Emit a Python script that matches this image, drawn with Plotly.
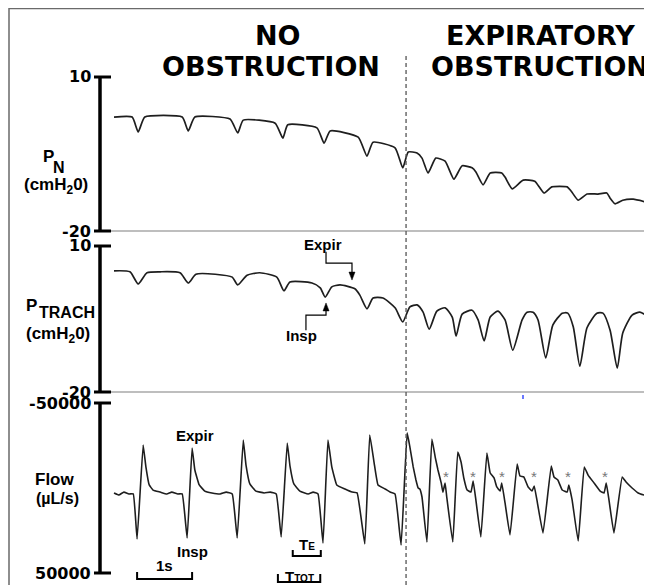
import plotly.graph_objects as go

# ---------------- data (time in s, pressure in cmH2O, flow in uL/s) ----------------
pn_t = [0.00, 0.33, 0.44, 0.56, 1.24, 1.35, 1.47, 2.11, 2.25, 2.35, 2.93, 3.07, 3.16, 3.69, 3.82, 3.93,
        4.44, 4.60, 4.71, 5.11, 5.25, 5.35, 5.51, 5.60, 5.71, 5.85, 6.02, 6.18, 6.33, 6.51, 6.58, 6.71,
        6.84, 7.05, 7.11, 7.24, 7.44, 7.65, 7.82, 7.96, 8.24, 8.31, 8.44, 8.60, 8.80, 8.96, 9.02, 9.11,
        9.25, 9.44, 9.69]
pn_v = [2.2, 2.2, -0.7, 2.2, 2.2, -0.5, 2.2, 1.8, -0.9, 1.6, 1.0, -1.9, 0.7, 0.1, -2.9, -0.5,
        -1.7, -5.4, -2.7, -3.8, -7.7, -4.6, -4.8, -5.8, -8.7, -5.8, -6.4, -9.9, -7.3, -7.7, -8.5, -11.0,
        -8.7, -8.7, -9.5, -11.8, -10.1, -10.3, -12.6, -11.4, -11.4, -12.2, -14.0, -12.8, -12.8, -12.6, -13.6, -14.7,
        -14.0, -13.8, -14.4]

tr_t = [0.00, 0.29, 0.44, 0.60, 0.84, 1.20, 1.35, 1.49, 1.84, 2.15, 2.25, 2.42, 2.65, 2.96, 3.09, 3.20,
        3.60, 3.75, 3.84, 3.96, 4.11, 4.38, 4.47, 4.60, 4.71, 4.89, 5.11, 5.25, 5.38, 5.51, 5.62, 5.73,
        5.87, 6.02, 6.15, 6.22, 6.33, 6.51, 6.62, 6.73, 6.84, 6.98, 7.11, 7.25, 7.42, 7.51, 7.62, 7.71,
        7.85, 7.98, 8.15, 8.25, 8.35, 8.47, 8.60, 8.78, 8.89, 9.02, 9.15, 9.25, 9.42, 9.56, 9.67]
tr_v = [4.9, 4.7, 2.2, 4.5, 4.7, 4.5, 2.4, 4.2, 4.2, 3.6, 2.0, 4.0, 4.5, 3.6, 0.8, 2.6,
        2.4, 1.4, -0.5, 1.6, 2.0, 1.2, -0.1, -2.9, -0.7, -0.7, -2.7, -5.6, -2.5, -2.1, -3.6, -7.1,
        -3.4, -2.7, -4.6, -8.5, -4.0, -3.2, -5.2, -9.5, -4.6, -3.4, -5.2, -11.4, -5.2, -3.6, -3.6, -5.2,
        -13.0, -6.2, -3.8, -3.8, -6.6, -14.7, -6.8, -3.8, -3.8, -7.3, -15.1, -7.9, -4.2, -3.6, -4.2]

fl_t = [0.00, 0.09, 0.18, 0.27, 0.35, 0.42, 0.53, 0.58, 0.64, 0.71, 0.84, 0.96, 1.05, 1.16, 1.24, 1.33,
        1.42, 1.47, 1.55, 1.65, 1.78, 1.93, 2.04, 2.15, 2.24, 2.35, 2.40, 2.47, 2.58, 2.73, 2.84, 2.95,
        3.04, 3.15, 3.20, 3.27, 3.38, 3.53, 3.62, 3.71, 3.80, 3.89, 3.96, 4.05, 4.20, 4.33, 4.42, 4.56,
        4.65, 4.73, 4.80, 4.93, 5.02, 5.11, 5.22, 5.33, 5.38, 5.44, 5.49, 5.53, 5.56, 5.60, 5.69, 5.78,
        5.84, 5.89, 5.95, 5.98, 6.02, 6.05, 6.16, 6.25, 6.31, 6.36, 6.42, 6.49, 6.53, 6.58, 6.67, 6.78,
        6.84, 6.91, 6.96, 7.02, 7.05, 7.11, 7.20, 7.33, 7.38, 7.45, 7.53, 7.60, 7.64, 7.69, 7.80, 7.95,
        8.00, 8.07, 8.15, 8.24, 8.27, 8.33, 8.44, 8.55, 8.62, 8.73, 8.84, 8.91, 8.95, 9.00, 9.09, 9.24,
        9.31, 9.42, 9.53, 9.69]
fl_v = [2900, 4100, 2400, 3500, 3500, 30000, -25300, -12400, -1800, 1200, 2400, 3500, 2400, 3500, 3500, 29400,
        -23500, -10600, -1800, 1800, 2900, 3500, 2400, 3500, 29400, -28200, -13500, -2400, 1800, 2900, 2400, 3500,
        28800, -26500, -12900, -2400, 1800, 3500, 2400, 3500, 32400, -28200, -12400, -1800, 600, 2400, 2900, 32900,
        -31200, -14700, -1800, 600, 2400, 3500, 33500, -32400, -24100, -12400, -4700, 0, 600, 5300, 31800, -28800,
        -18200, -10600, -2900, 2400, -2900, 5300, 31800, -21200, -15300, -5900, 1200, 2400, -4100, 7100, 28800, -20600,
        -8800, -5900, -600, 1800, -2900, 8800, 27600, -14100, -7100, -6500, -600, 1800, -1200, 7100, 26500, -12900,
        -6500, -4700, 1200, 2400, -1800, 7100, 31200, -12400, -7600, -2900, 1800, 2900, -2900, 7100, 26500, -6500,
        -3500, 0, 2900, 4700]

star_t = [6.04, 6.53, 7.05, 7.64, 8.25, 8.93]
star_v = [-6500, -6500, -6500, -6500, -6500, -6500]
onset_t = 5.31

p_ticks = [10, -20]
f_ticks = [-50000, 50000]
f_ticktext = ["-50000", "50000"]

# ---------------- layout helpers (reference pixel -> paper) ----------------
OFF = 8                      # page body margin in the browser
W, H = 652 - OFF, 585 - OFF  # figure size so the visible window matches


def px(p):
    return (p - OFF) / W


def py(p):
    return 1 - (p - OFF) / H


T0, SPS = 114.0, 55.0  # time origin (reference px) and pixels per second
x_range = [(OFF - T0) / SPS, (652 - T0) / SPS]


def band(top_px, bot_px, v_at):
    return [py(bot_px), py(top_px)], [v_at(bot_px), v_at(top_px)]


pn_map = lambda p: 10 - (p - 77) / (154 / 30)
tr_map = lambda p: 10 - (p - 246) / (146 / 30)
fl_map = lambda p: (p - 488) * (100000 / 170)

d1, r1 = band(70, 238, pn_map)
d2, r2 = band(239, 398, tr_map)
d3, r3 = band(399, 585, fl_map)

LINE = "#1e1e1e"
fig = go.Figure()
fig.add_trace(go.Scatter(x=pn_t, y=pn_v, mode="lines", xaxis="x", yaxis="y",
                         line=dict(color=LINE, width=1.7, shape="spline", smoothing=0.5)))
fig.add_trace(go.Scatter(x=tr_t, y=tr_v, mode="lines", xaxis="x", yaxis="y2",
                         line=dict(color=LINE, width=1.7, shape="spline", smoothing=0.6)))
fig.add_trace(go.Scatter(x=fl_t, y=fl_v, mode="lines", xaxis="x", yaxis="y3",
                         line=dict(color=LINE, width=1.6, shape="spline", smoothing=0.3)))

shapes = []
annotations = []

# frame
shapes.append(dict(type="rect", xref="paper", yref="paper", x0=px(9), x1=px(650), y0=-0.05, y1=py(8.5),
                   line=dict(color="#6a6a6a", width=1.5)))


# axis bars with caps and labels
def vbar(yref, lo, hi, labels, texts):
    shapes.append(dict(type="line", xref="paper", yref=yref, x0=px(100), x1=px(100), y0=lo, y1=hi,
                       line=dict(color="black", width=3.5)))
    for v, t in zip(labels, texts):
        shapes.append(dict(type="line", xref="paper", yref=yref, x0=px(94), x1=px(111), y0=v, y1=v,
                           line=dict(color="black", width=3)))
        annotations.append(dict(xref="paper", yref=yref, x=px(93), y=v, text="<b>%s</b>" % t,
                                xanchor="right", yanchor="middle", showarrow=False,
                                font=dict(family="DejaVu Sans", size=16, color="black")))


vbar("y", -20, 10, p_ticks, [str(v) for v in p_ticks])
vbar("y2", -20, 10, p_ticks, [str(v) for v in p_ticks])
vbar("y3", -50000, 50000, f_ticks, f_ticktext)

# gray baselines at -20
for yr in ["y", "y2"]:
    shapes.append(dict(type="line", xref="paper", yref=yr, x0=px(111), x1=px(650), y0=-20, y1=-20,
                       line=dict(color="#a8a8a8", width=1.5)))

# dashed onset line
shapes.append(dict(type="line", xref="x", yref="paper", x0=onset_t, x1=onset_t, y0=0, y1=py(56),
                   line=dict(color="#555555", width=1.3, dash="4px,3px")))

# small blue artifact
shapes.append(dict(type="line", xref="paper", yref="paper", x0=px(523), x1=px(523), y0=py(399), y1=py(395),
                   line=dict(color="#3a4cff", width=1.5)))

# headers
HF = dict(family="DejaVu Sans", size=27, color="black")
for txt, cx, cy in [("NO", 278, 35), ("OBSTRUCTION", 271, 66), ("EXPIRATORY", 540, 35), ("OBSTRUCTION", 540, 66)]:
    annotations.append(dict(xref="paper", yref="paper", x=px(cx), y=py(cy), text="<b>%s</b>" % txt,
                            showarrow=False, xanchor="center", yanchor="middle", font=HF))

# left labels
for txt, cx, cy, sz in [("P", 48, 156, 17), ("N", 59, 167, 16), ("(cmH<sub>2</sub>0)", 56, 186, 17),
                        ("P", 31, 305, 17), ("TRACH", 67, 312, 16), ("(cmH<sub>2</sub>0)", 58, 335, 17),
                        ("Flow", 54, 479, 17), ("(µL/s)", 58, 498, 16)]:
    annotations.append(dict(xref="paper", yref="paper", x=px(cx), y=py(cy), text="<b>%s</b>" % txt,
                            showarrow=False, xanchor="center", yanchor="middle",
                            font=dict(family="Liberation Sans", size=sz, color="black")))

AF = dict(family="Liberation Sans", size=15, color="black")
# PTRACH annotations with elbow arrows
annotations.append(dict(xref="x", yref="y2", x=3.80, y=10.4, text="<b>Expir</b>", showarrow=False, font=AF))
shapes.append(dict(type="path", xref="x", yref="y2", path="M 3.855,8.8 L 3.855,6.5 L 4.327,6.5 L 4.327,4.6",
                   line=dict(color="black", width=1.2)))
shapes.append(dict(type="path", xref="x", yref="y2", path="M 4.272,4.64 L 4.382,4.64 L 4.327,3.0 Z",
                   line=dict(color="black", width=0.5), fillcolor="black"))
annotations.append(dict(xref="x", yref="y2", x=3.40, y=-8.3, text="<b>Insp</b>", showarrow=False, font=AF))
shapes.append(dict(type="path", xref="x", yref="y2", path="M 3.49,-7.3 L 3.49,-4.2 L 3.855,-4.2 L 3.855,-3.3",
                   line=dict(color="black", width=1.2)))
shapes.append(dict(type="path", xref="x", yref="y2", path="M 3.80,-3.34 L 3.91,-3.34 L 3.855,-1.7 Z",
                   line=dict(color="black", width=0.5), fillcolor="black"))

# flow labels
annotations.append(dict(xref="x", yref="y3", x=1.47, y=-31000, text="<b>Expir</b>", showarrow=False, font=AF))
annotations.append(dict(xref="x", yref="y3", x=1.42, y=37600, text="<b>Insp</b>", showarrow=False, font=AF))

# asterisks
for t, v in zip(star_t, star_v):
    annotations.append(dict(xref="x", yref="y3", x=t, y=v, text="*", showarrow=False,
                            font=dict(family="Liberation Sans", size=15, color="#777777")))


# scale brackets
def bracket(t0, t1, v_bar, v_cap, label, v_lab):
    shapes.append(dict(type="path", xref="x", yref="y3",
                       path="M %.3f,%d L %.3f,%d L %.3f,%d L %.3f,%d" % (t0, v_cap, t0, v_bar, t1, v_bar, t1, v_cap),
                       line=dict(color="black", width=2)))
    annotations.append(dict(xref="x", yref="y3", x=(t0 + t1) / 2, y=v_lab, text=label, showarrow=False,
                            font=AF, yanchor="middle"))


bracket(0.42, 1.42, 53500, 49400, "<b>1s</b>", 45600)
bracket(3.25, 3.76, 40000, 36400, "<b>T<span style='font-size:10px'>E</span></b>", 33200)
bracket(2.98, 3.75, 55300, 50600, "<b>T<span style='font-size:10px'>TOT</span></b>", 52000)

fig.update_layout(
    width=W, height=H, margin=dict(l=0, r=0, t=0, b=0),
    paper_bgcolor="white", plot_bgcolor="rgba(0,0,0,0)", showlegend=False,
    xaxis=dict(domain=[0, 1], range=x_range, visible=False, fixedrange=True),
    yaxis=dict(domain=d1, range=r1, visible=False, anchor="x"),
    yaxis2=dict(domain=d2, range=r2, visible=False, anchor="x"),
    yaxis3=dict(domain=d3, range=r3, visible=False, anchor="x"),
    shapes=shapes, annotations=annotations,
)

fig.write_html("out.html")
